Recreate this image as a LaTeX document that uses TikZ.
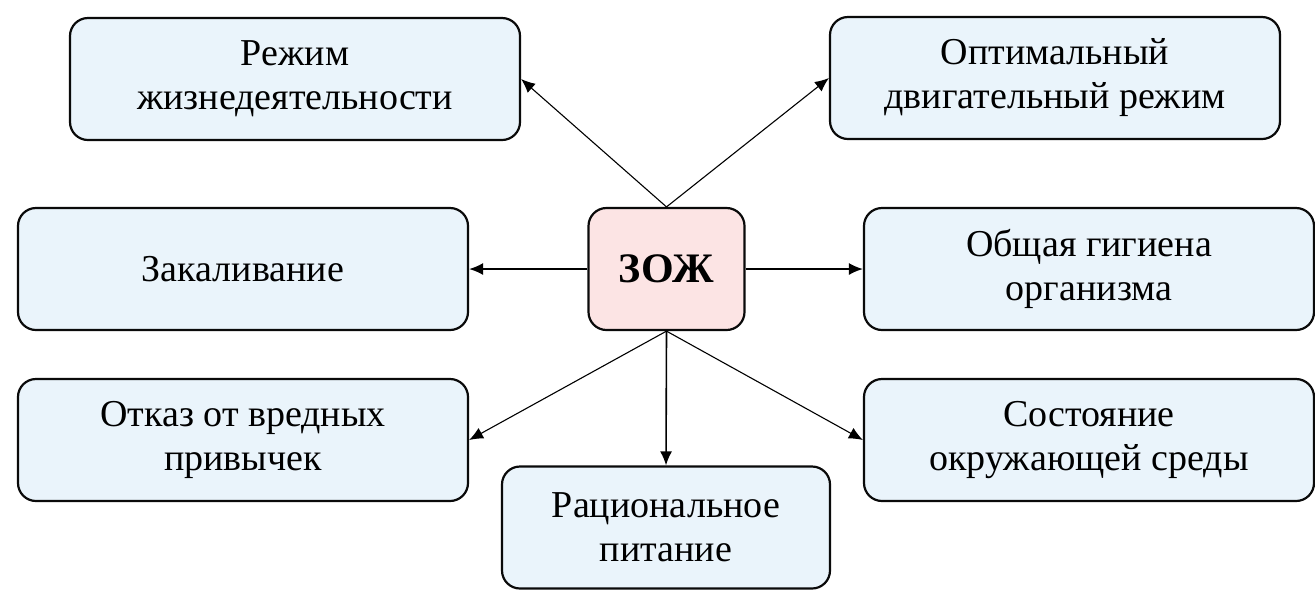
\documentclass[tikz,border=0pt]{standalone}
\usepackage{fontspec}
\setmainfont{Liberation Serif}
\usepackage{xcolor}
\usepackage{tikz}
\usetikzlibrary{arrows.meta, positioning}
\definecolor{boxblue}{RGB}{234,244,251}
\definecolor{zojpink}{RGB}{252,228,228}
\definecolor{edgedark}{RGB}{10,10,10}

\begin{document}
\begin{tikzpicture}[
    x=0.5pt, y=-0.5pt,
    box/.style={rectangle, draw=edgedark, line width=1.1pt, rounded corners=9pt, fill=boxblue, minimum width=225pt, minimum height=61pt, align=center, font=\fontsize{19}{22}\selectfont, inner sep=2pt},
    arr/.style={-{Latex[length=7pt, width=6pt]}, line width=0.55pt},
    harr/.style={-{Latex[length=7pt, width=6pt]}, line width=0.8pt}
]
\useasboundingbox (0,0) rectangle (1315,607);
\node[box, fill=zojpink, minimum width=78pt, font=\bfseries\fontsize{21}{24}\selectfont] (zoj) at (666.5,269) {ЗОЖ};
\node[box] (rezhim) at (295,79) {Режим\\жизнедеятельности};
\node[box] (dvig) at (1055,78) {Оптимальный\\двигательный режим};
\node[box] (zakal) at (243,269) {Закаливание};
\node[box] (gigiena) at (1089,269) {Общая гигиена\\организма};
\node[box] (otkaz) at (243,440) {Отказ от вредных\\привычек};
\node[box] (sreda) at (1089,440) {Состояние\\окружающей среды};
\node[box, minimum width=164pt] (pitanie) at (666,527.5) {Рациональное\\питание};

\draw[arr] (zoj.north) -- (rezhim.east);
\draw[arr] (zoj.north) -- (dvig.west);
\draw[harr] (zoj.west) -- (zakal.east);
\draw[harr] (zoj.east) -- (gigiena.west);
\draw[arr] (zoj.south) -- (otkaz.east);
\draw[harr] (zoj.south) -- (pitanie.north);
\draw[arr] (zoj.south) -- (sreda.west);
\end{tikzpicture}
\end{document}
